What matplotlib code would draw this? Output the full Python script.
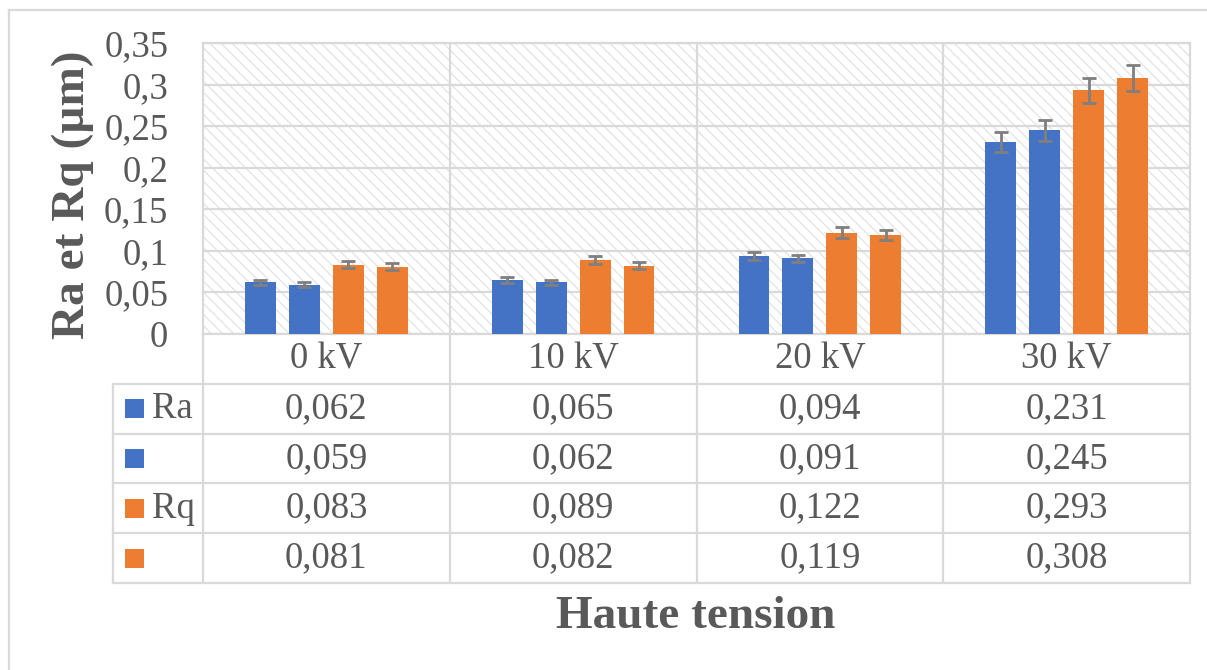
import matplotlib
matplotlib.use("Agg")
import matplotlib.pyplot as plt
import matplotlib.transforms as mtransforms
from matplotlib.patches import Rectangle
from matplotlib.lines import Line2D

# ---- data ----
categories = ["0 kV", "10 kV", "20 kV", "30 kV"]
ra_1 = [0.062, 0.065, 0.094, 0.231]
ra_2 = [0.059, 0.062, 0.091, 0.245]
rq_1 = [0.083, 0.089, 0.122, 0.293]
rq_2 = [0.081, 0.082, 0.119, 0.308]
ra_1_err = [0.0031, 0.0033, 0.0047, 0.0116]
ra_2_err = [0.0030, 0.0031, 0.0046, 0.0123]
rq_1_err = [0.0042, 0.0045, 0.0061, 0.0147]
rq_2_err = [0.0041, 0.0041, 0.0060, 0.0154]
series_labels = ["Ra", "", "Rq", ""]
yticks = [0, 0.05, 0.10, 0.15, 0.20, 0.25, 0.30, 0.35]
ytick_labels = ["0", "0,05", "0,1", "0,15", "0,2", "0,25", "0,3", "0,35"]
x_title = "Haute tension"
y_title = "Ra et Rq (µm)"

BLUE = "#4472C4"
ORANGE = "#ED7D31"
GRID = "#d9d9d9"
TEXT = "#595959"
ERR = "#7f7f7f"
FONT = "Liberation Serif"
FS = 26.5

series = [ra_1, ra_2, rq_1, rq_2]
errors = [ra_1_err, ra_2_err, rq_1_err, rq_2_err]
colors = [BLUE, BLUE, ORANGE, ORANGE]
offsets = [-0.267, -0.089, 0.089, 0.267]
bar_w = 0.125

W, H = 1207, 670
fig = plt.figure(figsize=(W / 100, H / 100), dpi=100)
fig.patch.set_facecolor("white")

# plot area in pixels
left, right, top, bottom = 203, 1190, 43, 334
ax = fig.add_axes([left / W, 1 - bottom / H, (right - left) / W, (bottom - top) / H])
ax.set_xlim(-0.5, 3.5)
ax.set_ylim(0, 0.35)

# hatched background of the plot area
plt.rcParams["hatch.linewidth"] = 0.9
ax.add_patch(Rectangle((0, 0), 1, 1, transform=ax.transAxes, facecolor="white",
                       edgecolor="#e3e3e3", hatch="\\\\\\", linewidth=0, zorder=0))

ax.set_yticks(yticks)
ax.set_yticklabels(ytick_labels, fontfamily=FONT, fontsize=FS, color=TEXT)
ax.tick_params(axis="y", length=0, pad=25)
ax.set_xticks([])
ax.yaxis.grid(True, color=GRID, linewidth=1.6, zorder=1)
ax.set_axisbelow(True)
for xv in [0.5, 1.5, 2.5]:
    ax.axvline(xv, color=GRID, linewidth=1.6, zorder=1)
for sp in ax.spines.values():
    sp.set_color(GRID)
    sp.set_linewidth(1.6)

xs = list(range(len(categories)))
for vals, errs, col, off in zip(series, errors, colors, offsets):
    pos = [x + off for x in xs]
    ax.bar(pos, vals, width=bar_w, color=col, zorder=3)
    ax.errorbar(pos, vals, yerr=errs, fmt="none", ecolor=ERR, elinewidth=2.0,
                capsize=4.8, capthick=2.0, zorder=4)

# ---- data table below the plot ----
plot_h = bottom - top
row_h = 49.8
n_rows = 1 + len(series)
tbl = mtransforms.blended_transform_factory(ax.transData, ax.transAxes)


def yfrac(py):
    return (bottom - py) / plot_h


def xfrac(px):
    return (px - left) / (right - left)


table_bottom = bottom + row_h * n_rows
legend_left = 113

line_kw = dict(color=GRID, linewidth=1.6, clip_on=False)
# vertical lines between category columns
for xv in [-0.5, 0.5, 1.5, 2.5, 3.5]:
    ax.plot([xv, xv], [0, yfrac(table_bottom)], transform=tbl, **line_kw)
# left edge of the legend column
ax.plot([xfrac(legend_left)] * 2, [yfrac(bottom + row_h), yfrac(table_bottom)],
        transform=ax.transAxes, **line_kw)
# horizontal row lines
for i in range(1, n_rows + 1):
    yy = yfrac(bottom + row_h * i)
    ax.plot([xfrac(legend_left), 1], [yy, yy], transform=ax.transAxes, **line_kw)

# category header row
for x, cat in zip(xs, categories):
    ax.text(x, yfrac(bottom + row_h * 0.5), cat, transform=tbl, ha="center",
            va="center", fontfamily=FONT, fontsize=FS, color=TEXT)

# value rows with legend keys
sq = 19
for r, (vals, col, lab) in enumerate(zip(series, colors, series_labels), start=1):
    yc = bottom + row_h * (r + 0.5)
    ax.add_patch(Rectangle((xfrac(125), yfrac(yc + sq / 2)), xfrac(125 + sq) - xfrac(125),
                           sq / plot_h, transform=ax.transAxes, facecolor=col,
                           edgecolor="none", clip_on=False))
    if lab:
        ax.text(xfrac(152), yfrac(yc), lab, transform=ax.transAxes, ha="left",
                va="center", fontfamily=FONT, fontsize=FS, color=TEXT)
    for x, v in zip(xs, vals):
        ax.text(x, yfrac(yc), f"{v:.3f}".replace(".", ","), transform=tbl,
                ha="center", va="center", fontfamily=FONT, fontsize=FS, color=TEXT)

# axis titles
fig.text(73 / W, 1 - 195 / H, y_title, rotation=90, ha="center", va="center",
         fontfamily=FONT, fontsize=34, fontweight="bold", color=TEXT)
fig.text(696 / W, 1 - 617 / H, x_title, ha="center", va="center",
         fontfamily=FONT, fontsize=34, fontweight="bold", color=TEXT)

# outer chart frame (left and top edges)
fig.add_artist(Line2D([9 / W, 9 / W], [0, 1 - 10 / H], color=GRID, linewidth=1.6,
                      transform=fig.transFigure))
fig.add_artist(Line2D([9 / W, 1], [1 - 10 / H, 1 - 10 / H], color=GRID, linewidth=1.6,
                      transform=fig.transFigure))

fig.savefig("out.png", dpi=100)
